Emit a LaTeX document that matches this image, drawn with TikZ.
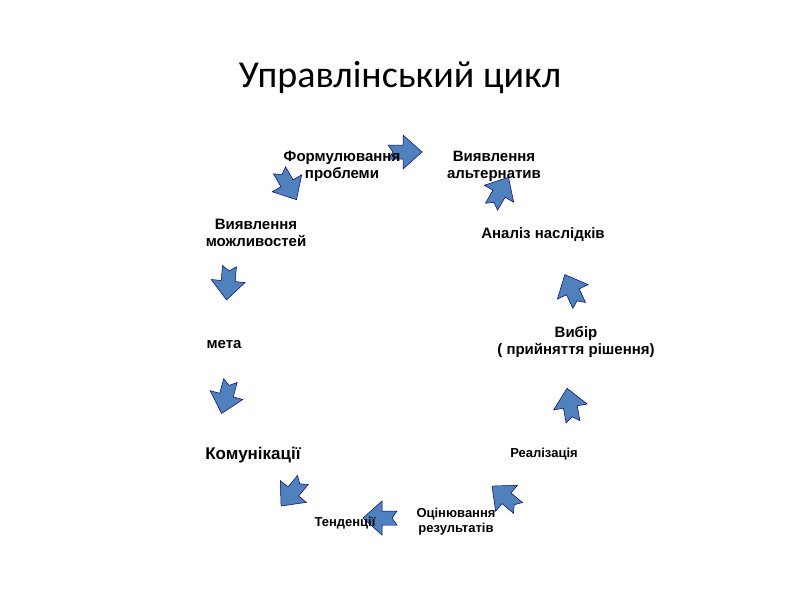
\documentclass[tikz,border=0pt]{standalone}
\usepackage{fontspec}
\setmainfont{Liberation Sans}
\newfontfamily\titlefont{Carlito}
\begin{document}
\begin{tikzpicture}[x=1pt,y=-1pt,
  lbl/.style={font=\bfseries\fontsize{15}{17}\selectfont,align=center,inner sep=0},
  sml/.style={font=\bfseries\fontsize{13}{15}\selectfont,align=center,inner sep=0},
  blk/.style={fill=blue!40!cyan!60!black!75,draw=blue!50!black,line width=0.5pt}]
\useasboundingbox (0,0) rectangle (800,600);
\fill[white] (0,0) rectangle (800,600);
\node (title) at (400,78) {\titlefont\fontsize{38}{44}\selectfont Управлінський цикл};
\newcommand\barrow[3]{\fill[blk,fill={rgb,255:red,79;green,129;blue,189}] (#1,#2) ++(0,0) [rotate around={#3:(#1,#2)}]
  (#1-17,#2-7) -- (#1-2,#2-7) -- (#1-2,#2-17) -- (#1+17,#2) -- (#1-2,#2+17) -- (#1-2,#2+7) -- (#1-17,#2+7) -- (#1-12,#2) -- cycle;}
\barrow{405}{152}{0}
\barrow{500}{192}{60}
\barrow{572}{290}{115}
\barrow{570}{405}{100}
\barrow{505}{497}{140}
\barrow{380}{518}{180}
\barrow{292}{493}{230}
\barrow{226}{397}{255}
\barrow{228}{283}{265}
\barrow{288}{185}{300}
\node[lbl] (n1) at (342,166) {Формулювання\\проблеми};
\node[lbl] (n2) at (494,166) {Виявлення\\альтернатив};
\node[lbl] (n3) at (543,235) {Аналіз наслідків};
\node[lbl] (n4) at (576,342) {Вибір\\( прийняття рішення)};
\node[sml] (n5) at (544,454) {Реалізація};
\node[sml] (n6) at (456,522) {Оцінювання\\результатів};
\node[sml] (n7) at (345,523) {Тенденції};
\node[lbl,font=\bfseries\fontsize{17}{19}\selectfont] (n8) at (253,455) {Комунікації};
\node[lbl] (n9) at (224,345) {мета};
\node[lbl] (n10) at (256,233) {Виявлення\\можливостей};
\end{tikzpicture}
\end{document}
